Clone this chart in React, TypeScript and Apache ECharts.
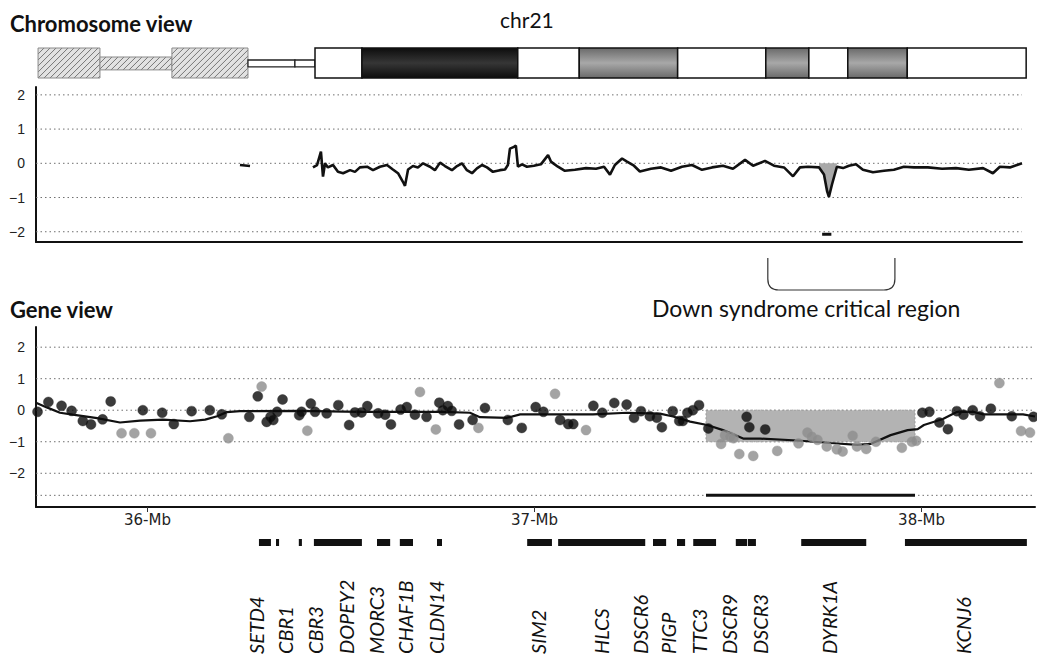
import React, { useEffect, useRef } from "react";
import * as echarts from "echarts";

// ---------------- Chromosome view data (chr21, Mb) ----------------
const ideogramBands: [number, number, string][] = [
  [0.1, 3.12, "hatch"],
  [3.12, 6.63, "hatchThin"],
  [6.63, 10.34, "hatch"],
  [10.34, 12.63, "stalk"],
  [12.63, 13.61, "stalk"],
  [13.61, 15.9, "white"],
  [15.9, 23.5, "black"],
  [23.5, 26.5, "white"],
  [26.5, 31.3, "gray"],
  [31.3, 35.6, "white"],
  [35.6, 37.7, "gray"],
  [37.7, 39.6, "white"],
  [39.6, 42.5, "gray"],
  [42.5, 48.3, "white"],
];

const chromShortSegment: [number, number][] = [
  [9.95, -0.05],
  [10.44, -0.08],
];

const chromProfile: [number, number][] = [
  [13.51, -0.12], [13.71, -0.05], [13.9, 0.34], [14.0, -0.39], [14.1, 0.0], [14.24, -0.12],
  [14.49, -0.05], [14.73, -0.25], [14.98, -0.29], [15.32, -0.2], [15.56, -0.25], [15.8, -0.12],
  [16.15, -0.1], [16.44, -0.2], [16.78, -0.1], [17.12, -0.05], [17.41, -0.18], [17.66, -0.29],
  [17.9, -0.54], [18.0, -0.66], [18.15, -0.18], [18.39, -0.08], [18.63, -0.12], [18.88, 0.0],
  [19.22, -0.1], [19.46, -0.2], [19.71, 0.02], [19.95, -0.08], [20.29, -0.2], [20.54, -0.08],
  [20.78, 0.0], [21.02, -0.2], [21.27, -0.29], [21.51, -0.15], [21.76, -0.05], [22.0, -0.12],
  [22.29, -0.25], [22.63, -0.2], [22.88, -0.18], [23.02, -0.05], [23.12, 0.43], [23.32, 0.48],
  [23.41, 0.52], [23.51, -0.1], [23.71, -0.03], [23.95, -0.1], [24.29, -0.07], [24.63, -0.03],
  [24.98, 0.24], [25.12, 0.05], [25.46, -0.1], [25.8, -0.22], [26.29, -0.19], [26.83, -0.14],
  [27.32, -0.16], [27.71, -0.1], [28.0, -0.33], [28.24, -0.05], [28.59, 0.14], [28.83, 0.05],
  [29.17, -0.07], [29.46, -0.24], [30.0, -0.16], [30.49, -0.12], [30.98, -0.22], [31.51, -0.1],
  [32.0, -0.05], [32.49, -0.19], [32.98, -0.12], [33.51, -0.07], [34.0, -0.16], [34.59, 0.1],
  [34.98, -0.07], [35.56, 0.07], [36.0, -0.07], [36.49, -0.12], [36.93, -0.38], [37.27, -0.12],
  [37.66, -0.1], [38.2, -0.12], [38.44, -0.33], [38.59, -0.81], [38.68, -0.98], [38.83, -0.62],
  [39.07, -0.1], [39.37, -0.14], [39.66, -0.07], [40.0, -0.03], [40.34, -0.19], [40.83, -0.26],
  [41.37, -0.22], [41.85, -0.19], [42.34, -0.1], [42.83, -0.12], [43.51, -0.12], [44.2, -0.16],
  [44.88, -0.14], [45.51, -0.19], [46.2, -0.14], [46.68, -0.29], [47.02, -0.1], [47.51, -0.12],
  [48.1, 0.0],
];

const chromDipRange: [number, number] = [38.2, 39.07];
const chromBottomMark: [number, number][] = [
  [38.35, -2.07],
  [38.8, -2.07],
];
const zoomBracketMb: [number, number] = [35.7, 41.9];

const chromGridValues = [2, 1, 0, -1, -2];
const yTickLabels = [-2, -1, 0, 1, 2];

// ---------------- Gene view data (Mb, log2 ratio) ----------------
const geneBlackPoints: [number, number][] = [
  [35.716, -0.05], [35.744, 0.26], [35.778, 0.14], [35.804, -0.02], [35.833, -0.34], [35.854, -0.45],
  [35.884, -0.29], [35.905, 0.28], [35.988, 0.0], [36.038, -0.08], [36.068, -0.44], [36.114, -0.03],
  [36.161, 0.0], [36.192, -0.13], [36.263, -0.21], [36.285, 0.44], [36.308, -0.37], [36.318, -0.21],
  [36.325, -0.31], [36.335, -0.05], [36.349, 0.34], [36.392, -0.16], [36.398, -0.05], [36.422, 0.21],
  [36.433, -0.05], [36.463, -0.1], [36.493, 0.16], [36.521, -0.47], [36.536, -0.07], [36.553, -0.07],
  [36.568, 0.13], [36.596, -0.1], [36.614, -0.14], [36.629, -0.45], [36.654, 0.02], [36.67, 0.1],
  [36.691, -0.14], [36.721, -0.21], [36.754, 0.24], [36.763, 0.0], [36.776, 0.13], [36.786, -0.02],
  [36.805, -0.45], [36.84, -0.31], [36.872, 0.07], [36.931, -0.31], [36.967, -0.56], [37.003, 0.1],
  [37.023, -0.05], [37.066, -0.31], [37.087, -0.44], [37.1, -0.44], [37.152, 0.14], [37.175, -0.08],
  [37.206, 0.23], [37.238, 0.18], [37.257, -0.24], [37.275, -0.03], [37.298, -0.19], [37.316, -0.24],
  [37.329, -0.54], [37.357, -0.03], [37.374, -0.34], [37.383, -0.34], [37.395, -0.08], [37.409, 0.0],
  [37.425, 0.16], [37.449, -0.58], [37.548, -0.21], [37.555, -0.54], [37.596, -0.61], [38.002, -0.08],
  [38.02, -0.05], [38.046, -0.39], [38.068, -0.6], [38.091, -0.03], [38.108, -0.14], [38.132, 0.0],
  [38.151, -0.19], [38.179, 0.05], [38.233, -0.19], [38.289, -0.21],
];

const geneGrayPoints: [number, number][] = [
  [35.933, -0.73], [35.966, -0.73], [36.009, -0.73], [36.209, -0.89], [36.295, 0.75], [36.413, -0.65],
  [36.704, 0.58], [36.745, -0.61], [36.855, -0.56], [37.053, 0.52], [37.133, -0.63],
  [37.482, -1.07], [37.492, -0.79], [37.505, -0.84], [37.514, -0.89], [37.529, -1.39], [37.565, -1.45],
  [37.627, -1.29], [37.682, -1.05], [37.705, -0.71], [37.716, -0.84], [37.731, -0.94], [37.755, -1.15],
  [37.781, -1.24], [37.796, -1.31], [37.822, -0.81], [37.833, -1.15], [37.857, -1.23], [37.882, -1.0],
  [37.949, -1.19], [37.975, -1.0], [37.986, -0.97],
  [38.201, 0.86], [38.257, -0.66], [38.28, -0.71],
];

const geneSmoothLine: [number, number][] = [
  [35.712, 0.24], [35.74, 0.09], [35.774, -0.08], [35.807, -0.14], [35.87, -0.25], [35.929, -0.39],
  [35.981, -0.33], [36.04, -0.3], [36.11, -0.35], [36.149, -0.3], [36.18, -0.19], [36.205, -0.06],
  [36.239, -0.03], [36.394, -0.02], [36.549, -0.05], [36.764, -0.05], [36.833, -0.08], [36.859, -0.22],
  [36.929, -0.24], [36.963, -0.13], [37.03, -0.13], [37.151, -0.13], [37.239, -0.08], [37.324, -0.11],
  [37.358, -0.2], [37.402, -0.36], [37.446, -0.47], [37.487, -0.63], [37.539, -0.9], [37.583, -0.9],
  [37.679, -0.96], [37.764, -1.04], [37.834, -1.1], [37.868, -1.07], [37.92, -0.79], [37.964, -0.63],
  [37.99, -0.6], [38.006, -0.47], [38.055, -0.28], [38.092, -0.05], [38.133, -0.05], [38.159, -0.13],
  [38.262, -0.13], [38.293, -0.2],
];

const dscrRegion: [number, number, number, number] = [37.443, 37.983, 0, -1];
const dscrTrackValue = -2.7;
const geneGridValues = [2, 1, 0, -1, -2, -2.7];
const geneXTicks = [36, 37, 38];

const geneSegments: [number, number][] = [
  [36.288, 36.319], [36.332, 36.34], [36.391, 36.399], [36.43, 36.554], [36.593, 36.627],
  [36.652, 36.686], [36.748, 36.761], [36.981, 37.045], [37.061, 37.286], [37.306, 37.34],
  [37.368, 37.389], [37.41, 37.469], [37.52, 37.549], [37.551, 37.572], [37.689, 37.857],
  [37.957, 38.272],
];

const geneNames = [
  "SETD4", "CBR1", "CBR3", "DOPEY2", "MORC3", "CHAF1B", "CLDN14", "SIM2",
  "HLCS", "DSCR6", "PIGP", "TTC3", "DSCR9", "DSCR3", "DYRK1A", "KCNJ6",
];
// layout: label column centres (px)
const geneLabelX = [256, 285, 315, 346, 376, 405, 436, 538, 601, 640, 668, 699, 729, 760, 829, 963];

// ---------------- helpers ----------------
const CAL = "Lato, 'Open Sans', sans-serif";
const minusFmt = (v: number) => (v < 0 ? "\u2212" + Math.abs(v) : String(v));

function hatchLines(x0: number, y0: number, w: number, h: number, step: number) {
  const out: any[] = [];
  for (let t = -h; t < w; t += step) {
    let xs = x0 + t;
    let ys = y0 + h;
    let xe = x0 + t + h;
    let ye = y0;
    if (xs < x0) {
      ys = y0 + h - (x0 - xs);
      xs = x0;
    }
    if (xe > x0 + w) {
      ye = y0 + (xe - (x0 + w));
      xe = x0 + w;
    }
    if (xe - xs > 0.5) {
      out.push({
        type: "line",
        shape: { x1: xs, y1: ys, x2: xe, y2: ye },
        style: { stroke: "#777", lineWidth: 1 },
      });
    }
  }
  return out;
}

function gridLineSeries(xAxisIndex: number, yAxisIndex: number, xMin: number, values: number[]) {
  return {
    type: "custom",
    xAxisIndex,
    yAxisIndex,
    silent: true,
    z: 1,
    data: values.map((v) => [xMin, v]),
    encode: { x: 0, y: 1 },
    renderItem: (params: any, api: any) => {
      const cs = params.coordSys;
      const y = api.coord([api.value(0), api.value(1)])[1];
      return {
        type: "line",
        shape: { x1: cs.x, y1: y, x2: cs.x + cs.width, y2: y },
        style: { stroke: "#6f6f6f", lineWidth: 1, lineDash: [1.5, 3] },
      };
    },
  };
}

const axisLineStyle = { show: true, onZero: false, lineStyle: { color: "#111", width: 2 } };
const yLabelStyle = {
  customValues: yTickLabels,
  formatter: minusFmt,
  margin: 11,
  fontSize: 14,
  fontFamily: "'Liberation Sans', Arial, sans-serif",
  color: "#222",
};

export default function App() {
  const ref = useRef<HTMLDivElement>(null);

  useEffect(() => {
    if (!ref.current) return;
    const chart = echarts.init(ref.current, undefined, { renderer: "svg" });

    const option: any = {
      animation: false,
      backgroundColor: "#fff",
      grid: [
        { left: 36, top: 48, width: 1000, height: 30 },
        { left: 36, top: 87, width: 986, height: 155 },
        { left: 36, top: 327, width: 999, height: 180 },
      ],
      xAxis: [
        { gridIndex: 0, type: "value", min: 0, max: 48.78, show: false },
        {
          gridIndex: 1,
          type: "value",
          min: 0,
          max: 48.1,
          axisLine: axisLineStyle,
          axisTick: { show: false },
          axisLabel: { show: false },
          splitLine: { show: false },
        },
        {
          gridIndex: 2,
          type: "value",
          min: 35.712,
          max: 38.293,
          axisLine: axisLineStyle,
          axisTick: { show: true, customValues: geneXTicks, length: 5, lineStyle: { color: "#333" } },
          axisLabel: {
            customValues: geneXTicks,
            formatter: (v: number) => `${v}-Mb`,
            margin: 5,
            fontSize: 15,
            fontFamily: "'DejaVu Sans', Verdana, sans-serif",
            color: "#222",
          },
          splitLine: { show: false },
        },
      ],
      yAxis: [
        { gridIndex: 0, type: "value", min: 0, max: 1, show: false },
        {
          gridIndex: 1,
          type: "value",
          min: -2.3,
          max: 2.23,
          axisLine: axisLineStyle,
          axisTick: { show: false },
          axisLabel: yLabelStyle,
          splitLine: { show: false },
        },
        {
          gridIndex: 2,
          type: "value",
          min: -3.07,
          max: 2.64,
          axisLine: axisLineStyle,
          axisTick: { show: false },
          axisLabel: yLabelStyle,
          splitLine: { show: false },
        },
      ],
      series: [
        // ideogram
        {
          type: "custom",
          xAxisIndex: 0,
          yAxisIndex: 0,
          silent: true,
          data: ideogramBands.map((b) => [b[0], b[1]]),
          encode: { x: [0, 1] },
          renderItem: (params: any, api: any) => {
            const cs = params.coordSys;
            const kind = ideogramBands[params.dataIndex][2];
            const x0 = api.coord([api.value(0), 0])[0];
            const x1 = api.coord([api.value(1), 0])[0];
            const w = x1 - x0;
            if (kind === "hatch" || kind === "hatchThin") {
              const y0 = kind === "hatch" ? cs.y : cs.y + cs.height * 0.3;
              const h = kind === "hatch" ? cs.height : cs.height * 0.43;
              return {
                type: "group",
                children: [
                  { type: "rect", shape: { x: x0, y: y0, width: w, height: h }, style: { fill: "#e2e2e2", stroke: "none" } },
                  ...hatchLines(x0, y0, w, h, 6),
                  { type: "rect", shape: { x: x0, y: y0, width: w, height: h }, style: { fill: "none", stroke: "#8a8a8a", lineWidth: 1 } },
                ],
              };
            }
            if (kind === "stalk") {
              return {
                type: "rect",
                shape: { x: x0, y: cs.y + cs.height * 0.4, width: w, height: cs.height * 0.23 },
                style: { fill: "#fff", stroke: "#222", lineWidth: 1.3 },
              };
            }
            let fill: any = "#fff";
            if (kind === "black") {
              fill = new echarts.graphic.LinearGradient(0, 0, 0, 1, [
                { offset: 0, color: "#0d0d0d" },
                { offset: 0.5, color: "#363636" },
                { offset: 1, color: "#0d0d0d" },
              ]);
            } else if (kind === "gray") {
              fill = new echarts.graphic.LinearGradient(0, 0, 0, 1, [
                { offset: 0, color: "#6a6a6a" },
                { offset: 0.5, color: "#a8a8a8" },
                { offset: 1, color: "#6a6a6a" },
              ]);
            }
            return {
              type: "rect",
              shape: { x: x0, y: cs.y, width: w, height: cs.height },
              style: { fill, stroke: "#111", lineWidth: 1.5 },
            };
          },
        },
        // chromosome grid lines
        gridLineSeries(1, 1, 0, chromGridValues),
        // dip fill
        {
          type: "line",
          xAxisIndex: 1,
          yAxisIndex: 1,
          silent: true,
          z: 2,
          symbol: "none",
          data: chromProfile.filter((p) => p[0] >= chromDipRange[0] && p[0] <= chromDipRange[1]),
          lineStyle: { width: 0, opacity: 0 },
          areaStyle: { color: "#a9a9a9", opacity: 1 },
        },
        {
          type: "line",
          xAxisIndex: 1,
          yAxisIndex: 1,
          silent: true,
          z: 3,
          symbol: "none",
          data: chromShortSegment,
          lineStyle: { color: "#111", width: 2.6 },
        },
        {
          type: "line",
          xAxisIndex: 1,
          yAxisIndex: 1,
          silent: true,
          z: 3,
          symbol: "none",
          data: chromProfile,
          lineStyle: { color: "#111", width: 2.6 },
        },
        {
          type: "line",
          xAxisIndex: 1,
          yAxisIndex: 1,
          silent: true,
          z: 3,
          symbol: "none",
          data: chromBottomMark,
          lineStyle: { color: "#111", width: 3 },
        },
        // bracket linking chromosome view to gene view
        {
          type: "custom",
          xAxisIndex: 1,
          yAxisIndex: 1,
          silent: true,
          clip: false,
          data: [zoomBracketMb],
          encode: { x: [0, 1] },
          renderItem: (params: any, api: any) => {
            const cs = params.coordSys;
            const xa = api.coord([api.value(0), 0])[0];
            const xb = api.coord([api.value(1), 0])[0];
            const yTop = cs.y + cs.height + 16;
            const yBot = cs.y + cs.height + 48;
            const r = 11;
            const st = { stroke: "#333", lineWidth: 1.2, fill: "none" };
            return {
              type: "group",
              children: [
                { type: "line", shape: { x1: xa, y1: yTop, x2: xa, y2: yBot - r }, style: st },
                { type: "bezierCurve", shape: { x1: xa, y1: yBot - r, x2: xa + r, y2: yBot, cpx1: xa, cpy1: yBot }, style: st },
                { type: "line", shape: { x1: xa + r, y1: yBot, x2: xb - r, y2: yBot }, style: st },
                { type: "bezierCurve", shape: { x1: xb - r, y1: yBot, x2: xb, y2: yBot - r, cpx1: xb, cpy1: yBot }, style: st },
                { type: "line", shape: { x1: xb, y1: yBot - r, x2: xb, y2: yTop }, style: st },
              ],
            };
          },
        },
        // gene grid lines
        gridLineSeries(2, 2, 35.712, geneGridValues),
        // DSCR shaded region
        {
          type: "custom",
          xAxisIndex: 2,
          yAxisIndex: 2,
          silent: true,
          z: 2,
          data: [dscrRegion],
          encode: { x: [0, 1], y: [2, 3] },
          renderItem: (params: any, api: any) => {
            const p0 = api.coord([api.value(0), api.value(2)]);
            const p1 = api.coord([api.value(1), api.value(3)]);
            return {
              type: "rect",
              shape: { x: p0[0], y: p0[1], width: p1[0] - p0[0], height: p1[1] - p0[1] },
              style: { fill: "#b3b3b3", stroke: "#9a9a9a", lineWidth: 1, lineDash: [2, 2] },
            };
          },
        },
        {
          type: "line",
          xAxisIndex: 2,
          yAxisIndex: 2,
          silent: true,
          z: 3,
          symbol: "none",
          data: [
            [dscrRegion[0], dscrTrackValue],
            [dscrRegion[1], dscrTrackValue],
          ],
          lineStyle: { color: "#111", width: 3 },
        },
        {
          type: "line",
          xAxisIndex: 2,
          yAxisIndex: 2,
          silent: true,
          z: 3,
          symbol: "none",
          data: geneSmoothLine,
          lineStyle: { color: "#111", width: 2.2 },
        },
        {
          type: "scatter",
          xAxisIndex: 2,
          yAxisIndex: 2,
          silent: true,
          clip: false,
          z: 4,
          symbolSize: 10,
          data: geneGrayPoints,
          itemStyle: { color: "#8c8c8c", borderColor: "#9a9a9a", borderWidth: 0.5 },
        },
        {
          type: "scatter",
          xAxisIndex: 2,
          yAxisIndex: 2,
          silent: true,
          clip: false,
          z: 5,
          symbolSize: 10,
          data: geneBlackPoints,
          itemStyle: { color: "#0a0a0a", borderColor: "#2a2a2a", borderWidth: 0.5 },
        },
        // gene segments track
        {
          type: "custom",
          xAxisIndex: 2,
          yAxisIndex: 2,
          silent: true,
          clip: false,
          data: geneSegments,
          encode: { x: [0, 1] },
          renderItem: (params: any, api: any) => {
            const cs = params.coordSys;
            const x0 = api.coord([api.value(0), 0])[0];
            const x1 = api.coord([api.value(1), 0])[0];
            return {
              type: "rect",
              shape: { x: x0, y: cs.y + cs.height + 32, width: Math.max(2, x1 - x0), height: 7 },
              style: { fill: "#111" },
            };
          },
        },
      ],
      graphic: [
        {
          type: "text",
          left: 10,
          top: 12,
          style: { text: "Chromosome view", fontFamily: CAL, fontWeight: "bold", fontSize: 22, fill: "#111" },
        },
        {
          type: "text",
          left: 500,
          top: 9,
          style: { text: "chr21", fontFamily: CAL, fontSize: 21, fill: "#111" },
        },
        {
          type: "text",
          left: 10,
          top: 298,
          style: { text: "Gene view", fontFamily: CAL, fontWeight: "bold", fontSize: 22, fill: "#111" },
        },
        {
          type: "text",
          left: 652,
          top: 296,
          style: { text: "Down syndrome critical region", fontFamily: CAL, fontSize: 23, fill: "#111" },
        },
        ...geneNames.map((name, i) => ({
          type: "text",
          x: geneLabelX[i],
          y: 654,
          rotation: Math.PI / 2,
          style: {
            text: name,
            fontFamily: CAL,
            fontStyle: "italic",
            fontSize: 20,
            fill: "#111",
            align: "left",
            verticalAlign: "middle",
          },
        })),
      ],
    };

    chart.setOption(option);
    return () => chart.dispose();
  }, []);

  return (
    <div
      ref={ref}
      style={{ position: "absolute", left: 0, top: 0, width: 1037, height: 656, background: "#fff" }}
    />
  );
}
